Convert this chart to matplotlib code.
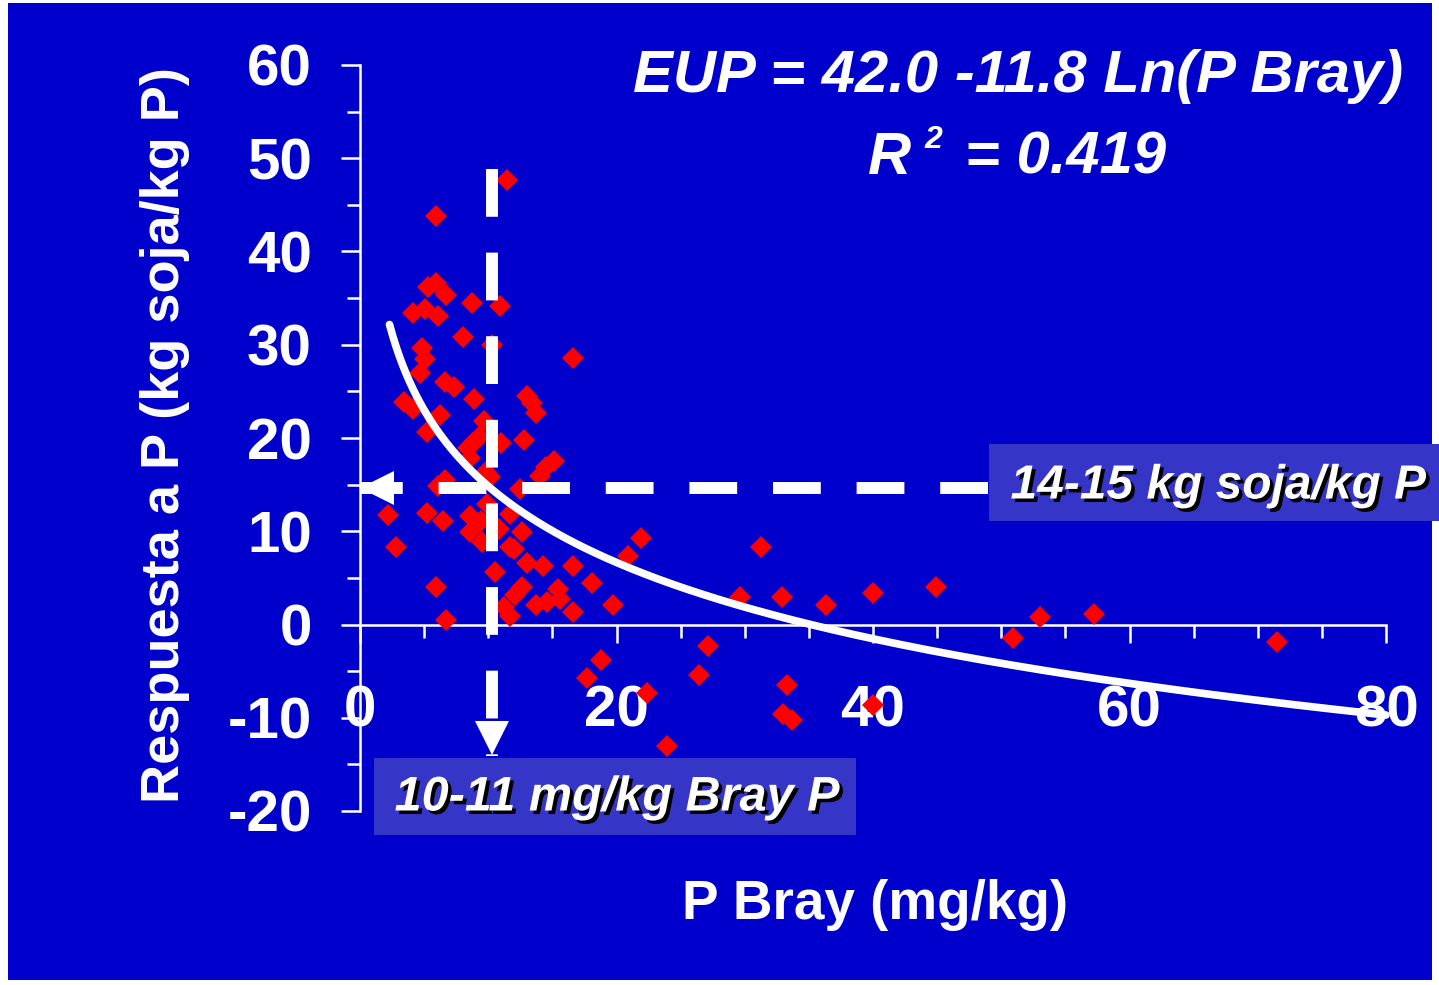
import numpy as np
import matplotlib.pyplot as plt
import matplotlib.patheffects as pe
from matplotlib.patches import Rectangle
from matplotlib.ticker import MultipleLocator

plt.rcParams['font.family'] = 'Liberation Sans'
plt.rcParams['font.weight'] = 'bold'
plt.rcParams['axes.unicode_minus'] = False

# datos
p_bray = [11.5, 5.9, 5.3, 5.9, 6.7, 8.7, 10.9, 4.1, 5.1, 6.1,
          8.0, 4.8, 5.1, 4.7, 10.3, 16.6, 6.6, 7.3, 8.9, 13.0,
          13.4, 13.7, 3.4, 4.1, 6.2, 5.2, 9.7, 8.4, 8.8, 9.3,
          11.0, 12.8, 8.6, 15.1, 14.5, 14.0, 9.8, 10.1, 6.6, 6.1,
          12.5, 2.2, 5.2, 6.5, 8.6, 9.4, 9.9, 11.7, 8.6, 10.8,
          12.6, 9.5, 11.7, 12.0, 2.8, 13.0, 14.3, 16.6, 10.5, 18.1,
          5.9, 12.6, 12.1, 15.4, 13.7, 14.6, 15.6, 11.2, 11.7, 16.6,
          19.7, 6.7, 21.9, 20.9, 31.3, 29.6, 32.9, 36.3, 40.0, 44.9,
          53.0, 57.2, 50.9, 71.5, 18.8, 17.7, 22.4, 23.9, 27.1, 26.4,
          33.3, 33.0, 33.7, 40.0]
eup = [47.7, 43.8, 36.2, 36.6, 35.3, 34.5, 34.2, 33.4, 33.8, 33.1,
       30.8, 29.7, 28.5, 27.0, 30.0, 28.6, 26.0, 25.5, 24.2, 24.5,
       23.7, 22.7, 23.9, 23.1, 22.5, 20.6, 21.8, 18.9, 19.5, 20.1,
       19.5, 19.8, 17.9, 17.5, 16.9, 15.9, 16.4, 15.8, 15.5, 14.8,
       14.5, 11.7, 12.0, 11.1, 11.6, 11.1, 12.9, 11.8, 9.9, 10.2,
       9.9, 8.8, 8.3, 8.1, 8.3, 6.6, 6.3, 6.3, 5.6, 4.5,
       4.0, 4.0, 3.2, 3.8, 2.1, 2.4, 2.7, 1.9, 0.9, 1.3,
       2.1, 0.5, 9.3, 7.3, 8.3, 3.0, 2.9, 2.1, 3.4, 4.0,
       0.8, 1.1, -1.4, -1.9, -3.8, -5.7, -7.3, -13.0, -2.3, -5.4,
       -6.5, -9.6, -10.2, -8.6]

a_coef = 42.0
b_coef = -11.8
x_fit_min, x_fit_max = 2.3, 80

p_crit = 10.3
eup_crit = 14.6
v_top, v_tip = 48.9, -14.1
h_right, h_tip = 49.0, 0.0

blue = '#0000CC'
box_blue = '#3535C8'

W, H = 1439, 985
fig = plt.figure(figsize=(W / 100, H / 100), dpi=100, facecolor='white')

def fx(px):
    return px / W

def fy(py):
    return 1 - py / H

bg = Rectangle((fx(8), fy(980)), fx(1432) - fx(8), fy(3) - fy(980),
               transform=fig.transFigure, facecolor=blue, edgecolor='none', zorder=-5)
fig.add_artist(bg)

ax = fig.add_axes([fx(360), fy(811), fx(1386) - fx(360), fy(65) - fy(811)])
ax.patch.set_visible(False)
ax.set_xlim(0, 80)
ax.set_ylim(-20, 60)

for s in ['top', 'right']:
    ax.spines[s].set_visible(False)
ax.spines['bottom'].set_position(('data', 0))
for s in ['left', 'bottom']:
    ax.spines[s].set_color('white')
    ax.spines[s].set_linewidth(1.8)

ax.xaxis.set_major_locator(MultipleLocator(20))
ax.xaxis.set_minor_locator(MultipleLocator(5))
ax.yaxis.set_major_locator(MultipleLocator(10))
ax.yaxis.set_minor_locator(MultipleLocator(5))

ax.tick_params(axis='both', which='both', colors='white', width=1.8, direction='out')
ax.tick_params(axis='x', which='major', length=13, pad=30, labelsize=42)
ax.tick_params(axis='x', which='minor', length=9.5)
ax.tick_params(axis='y', which='major', length=13.7, pad=21, labelsize=42)
ax.tick_params(axis='y', which='minor', length=9.5)

ax.plot(p_bray, eup, linestyle='none', marker='D', markersize=11,
        markerfacecolor='#FF0000', markeredgewidth=0, zorder=3, clip_on=False)

xf = np.linspace(x_fit_min, x_fit_max, 300)
ax.plot(xf, a_coef + b_coef * np.log(xf), color='white', linewidth=5.5,
        solid_capstyle='round', zorder=4, clip_on=False)

ax.plot([p_crit, p_crit], [v_top, v_tip], color='white', linewidth=8.6,
        dashes=(4, 3), dash_capstyle='butt', zorder=5, clip_on=False)
ax.plot([h_right, h_tip], [eup_crit, eup_crit], color='white', linewidth=8.6,
        dashes=(4, 3), dash_capstyle='butt', zorder=5, clip_on=False)
ax.plot([p_crit], [v_tip + 1.9], marker='v', markersize=25, color='white',
        markeredgewidth=0, zorder=6, clip_on=False)
ax.plot([h_tip + 1.36], [eup_crit], marker='<', markersize=25, color='white',
        markeredgewidth=0, zorder=6, clip_on=False)

fig.text(fx(165), fy(435), 'Respuesta a P (kg soja/kg P)', rotation=90,
         ha='center', va='center', color='white', fontsize=39)
fig.text(fx(875), fy(905), 'P Bray (mg/kg)', ha='center', va='center',
         color='white', fontsize=39.5)

fig.text(fx(1018), fy(76), 'EUP = 42.0 -11.8 Ln(P Bray)', ha='center', va='center',
         color='white', fontsize=43, style='italic')
fig.text(fx(868), fy(158), 'R', ha='left', va='center', color='white',
         fontsize=43, style='italic')
fig.text(fx(925), fy(140), '2', ha='left', va='center', color='white',
         fontsize=23, style='italic')
fig.text(fx(965), fy(158), '= 0.419', ha='left', va='center', color='white',
         fontsize=43, style='italic')

shadow = [pe.withSimplePatchShadow(offset=(2.5, -2.5), shadow_rgbFace='black', alpha=1.0)]

box1 = Rectangle((fx(989), fy(521)), fx(1439) - fx(989), fy(444) - fy(521),
                 transform=fig.transFigure, facecolor=box_blue, edgecolor='none', zorder=5)
fig.add_artist(box1)
fig.text(fx(1218), fy(486), '14-15 kg soja/kg P', ha='center', va='center',
         color='white', fontsize=34.5, style='italic', path_effects=shadow, zorder=6)

box2 = Rectangle((fx(374), fy(835)), fx(856) - fx(374), fy(758) - fy(835),
                 transform=fig.transFigure, facecolor=box_blue, edgecolor='none', zorder=5)
fig.add_artist(box2)
fig.text(fx(617), fy(798), '10-11 mg/kg Bray P', ha='center', va='center',
         color='white', fontsize=35, style='italic', path_effects=shadow, zorder=6)

fig.savefig('out.png', dpi=100, facecolor='white')
